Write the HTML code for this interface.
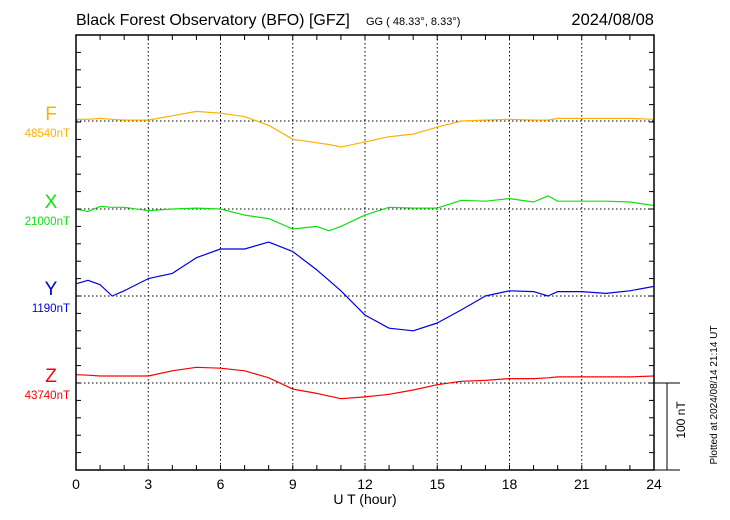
<!DOCTYPE html>
<html><head><meta charset="utf-8"><style>
body{margin:0;background:#fff;width:730px;height:520px;overflow:hidden}
svg{display:block;font-family:"Liberation Sans",Arial,sans-serif}
</style></head><body>
<svg id="chart" width="730" height="520" viewBox="0 0 730 520">
<text x="76" y="25" font-size="16">Black Forest Observatory (BFO)  [GFZ]</text>
<text x="366" y="25" font-size="11">GG ( 48.33°,  8.33°)</text>
<text x="654" y="25" font-size="16.5" text-anchor="end">2024/08/08</text>
<g id="grid"></g>
<g id="series"></g>
<rect x="76" y="35" width="578" height="435" fill="none" stroke="#000" stroke-width="1.5"/>
<g id="axes"></g>
<text x="365" y="504" font-size="14" text-anchor="middle">U T (hour)</text>
<g>
<line x1="654" y1="383" x2="680" y2="383" stroke="#000"/>
<line x1="667" y1="383" x2="667" y2="470" stroke="#000"/>
<line x1="654" y1="470" x2="680" y2="470" stroke="#000"/>
<text transform="translate(685,420) rotate(-90)" font-size="12" text-anchor="middle">100 nT</text>
</g>
<text transform="translate(717,395) rotate(-90)" font-size="10" text-anchor="middle">Plotted at 2024/08/14 21:14 UT</text>
</svg>
<script>
const hours=[0,0.5,1,1.5,2,3,4,5,6,7,8,9,10,10.5,11,12,13,14,15,16,17,18,19,19.6,20,21,22,23,24];
const fValues=[2,2,3,2,1,1,6,11,9,5,-5,-21,-25,-27,-30,-24,-18,-15,-7,0,1,2,1,1,3,3,3,3,2];
const xValues=[0,-3,3,2,2,-2,0,1,0,-7,-11,-23,-20,-25,-20,-7,2,1,1,10,9,12,8,15,9,9,9,8,4];
const yValues=[14,18,13,0,6,20,26,44,54,54,62,51,30,18,6,-22,-37,-40,-31,-16,0,6,5,0,5,5,3,6,11];
const zValues=[9.5,9,8,8,8,8,14,18,17,14,6,-7,-12,-15,-18,-16,-13,-8,-2,2,3,5,5,6,7,7,7,7,8];
const seriesNames=["F","X","Y","Z"];
const baseLabels=["48540nT","21000nT","1190nT","43740nT"];
const seriesColors=["#ffb000","#10e010","#0000e0","#ff0000"];
const xTickLabels=[0,3,6,9,12,15,18,21,24];
const NS="http://www.w3.org/2000/svg";
const X0=76,X1=654,Y0=35,Y1=470,PXNT=0.87;
const baselines=[121,209,296,383];
function xs(h){return X0+(X1-X0)*h/24;}
function ys(i,v){return baselines[i]-v*PXNT;}
function mk(t,a,p){const e=document.createElementNS(NS,t);for(const k in a)e.setAttribute(k,a[k]);p.appendChild(e);return e;}
const grid=document.getElementById('grid'),axes=document.getElementById('axes'),ser=document.getElementById('series');
xTickLabels.forEach(h=>{
  if(h>0&&h<24){const l=mk('line',{x1:xs(h),y1:Y0,x2:xs(h),y2:Y1,stroke:'#000','stroke-dasharray':'1.5,2.5','stroke-width':1},grid);
  
  }
  const t=mk('text',{x:xs(h),y:489,'font-size':14,'text-anchor':'middle'},axes);t.textContent=h;
  
  
});
for(let h=1;h<24;h++){
  const l=mk('line',{x1:xs(h),y1:Y1,x2:xs(h),y2:Y1-5,stroke:'#000'},axes);
  
  
  const l2=mk('line',{x1:xs(h),y1:Y0,x2:xs(h),y2:Y0+5,stroke:'#000'},axes);
  
  
}
for(let k=1;k<25;k++){
  const y=Y0+k*(Y1-Y0)/25;
  const l=mk('line',{x1:X0,y1:y,x2:X0+5,y2:y,stroke:'#000'},axes);
  
  
  const r=mk('line',{x1:X1-5,y1:y,x2:X1,y2:y,stroke:'#000'},axes);
  
  
}
const vals=[fValues,xValues,yValues,zValues];
seriesNames.forEach((n,i)=>{
  const g=mk('line',{x1:X0,y1:baselines[i],x2:X1,y2:baselines[i],stroke:'#000','stroke-dasharray':'1.5,2.5'},grid);
  
  
  const d=hours.map((h,j)=>(j?'L':'M')+xs(h).toFixed(1)+','+ys(i,vals[i][j]).toFixed(1)).join('');
  const p=mk('path',{d:d,fill:'none',stroke:seriesColors[i],'stroke-width':1.2,'stroke-linejoin':'round'},ser);
  
  
  const t=mk('text',{x:51,y:baselines[i]-1,'font-size':19,fill:seriesColors[i],'text-anchor':'middle'},axes);t.textContent=n;
  
  
  const b=mk('text',{x:70,y:baselines[i]+16,'font-size':11.5,fill:seriesColors[i],'text-anchor':'end'},axes);b.textContent=baseLabels[i];
  
  
});
</script>
</body></html>
